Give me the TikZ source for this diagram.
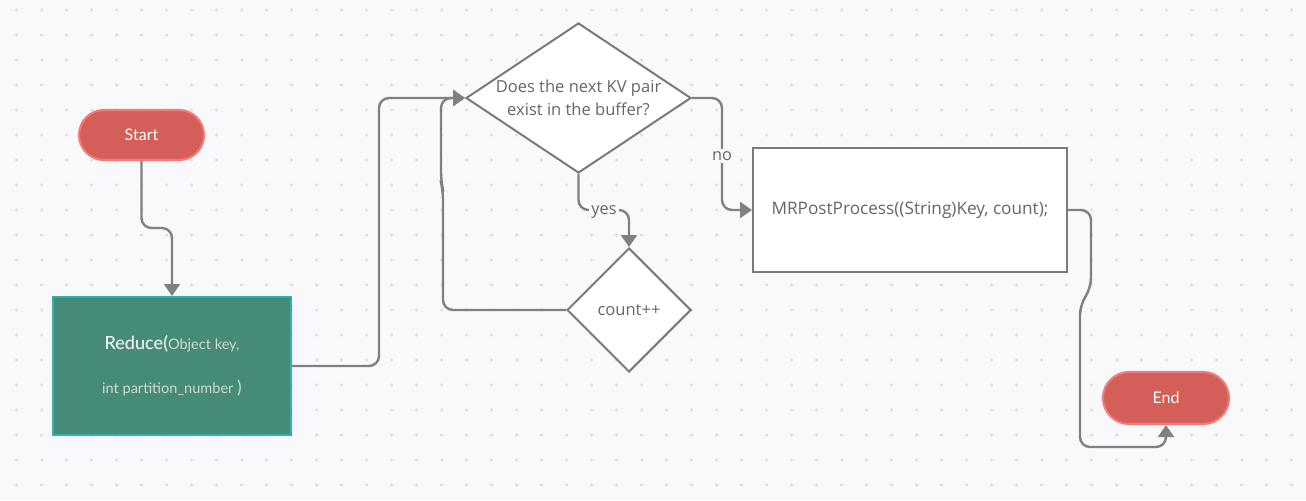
\documentclass[tikz,border=0pt]{standalone}
\usepackage{fontspec}
\setmainfont{Open Sans}
\newfontfamily\latofont{Lato}
\usetikzlibrary{shapes.geometric,arrows.meta,calc}
\definecolor{bg}{HTML}{F9F9FB}
\definecolor{dotc}{HTML}{E0E0E4}
\definecolor{linec}{HTML}{808080}
\definecolor{txt}{HTML}{666666}
\definecolor{pillfill}{HTML}{D45F58}
\definecolor{pillborder}{HTML}{F27A78}
\definecolor{redfill}{HTML}{468B78}
\definecolor{redborder}{HTML}{2BB3AE}
\definecolor{redtxt}{HTML}{D2D8D4}
\definecolor{shapeborder}{HTML}{7A7A7A}
\begin{document}
\begin{tikzpicture}[x=0.75pt,y=-0.75pt,
  pill/.style={rectangle, rounded corners=18.75pt, fill=pillfill, draw=pillborder, line width=1.6pt,
    minimum width=93.75pt, minimum height=37.5pt, text=white, font=\latofont\fontsize{12}{14}\selectfont},
  procbox/.style={rectangle, fill=white, draw=shapeborder, line width=1.5pt, text=txt,
    font=\fontsize{12.9}{17}\selectfont},
  decbox/.style={diamond, fill=white, draw=shapeborder, line width=1.5pt, text=txt, inner sep=0pt,
    shape aspect=1.5, align=center, font=\fontsize{12.4}{17}\selectfont},
  conn/.style={draw=linec, line width=1.8pt, rounded corners=7.5pt, -{Triangle[width=12pt,length=9pt]}},
  lbl/.style={fill=bg, text=txt, inner sep=1.5pt, font=\fontsize{12.2}{14}\selectfont}
]
\useasboundingbox (0,0) rectangle (1306,500);
\fill[bg] (0,0) rectangle (1306,500);
\foreach \i in {0,...,51} {
  \foreach \j in {0,...,19} {
    \fill[dotc] ({16.7+25*\i},{10+25*\j}) circle (1.3pt);
  }
}

% nodes
\node[pill] (start) at (141.5,135) {Start};
\node[pill, minimum width=94.5pt, minimum height=39pt, rounded corners=19.5pt] (end) at (1166,398) {End};
\node[rectangle, fill=redfill, draw=redborder, line width=1.5pt, minimum width=178.5pt, minimum height=103.5pt,
      align=center] (reduce) at (172,366)
  {{\latofont\fontsize{13.6}{15}\selectfont\color{white}Reduce(}{\latofont\fontsize{10.9}{12}\selectfont\color{redtxt}Object key,}\\[20pt]
   {\latofont\fontsize{10.9}{12}\selectfont\color{redtxt}int partition\_number }{\latofont\fontsize{13}{14}\selectfont\color{redtxt})}};
\node[decbox, minimum width=168.75pt, minimum height=112.5pt] (dec) at (578.5,98)
  {Does the next KV pair\\exist in the buffer?};
\node[decbox, shape aspect=1, minimum width=93pt, minimum height=93pt] (count) at (629,310) {count++};
\node[procbox, minimum width=235.5pt, minimum height=93pt] (mr) at (910,210)
  {MRPostProcess((String)Key, count);};

% helper coordinates
\coordinate (ys) at (0,210);
\coordinate (ss) at (0,228);
\coordinate (rx) at (379,0);
\coordinate (nx) at (722,0);
\coordinate (lx) at (443,0);
\coordinate (ex) at (1091,0);

% connectors
\draw[conn] (start.south) |- (reduce.north |- ss) -- (reduce.north);
\draw[conn] (reduce.east) -| (rx |- dec.west) -- (dec.west);
\draw[conn] (count.west) -| (lx |- 0,190) -- (441,182) -- (441,98) -- (dec.west);
\draw[conn] (dec.south) |- (count.north |- ys) -- (count.north);
\draw[conn] (dec.east) -| (nx |- mr.west) -- (mr.west);
\draw[conn] (mr.east) -| (ex |- 0,288) -- (1080,305) -- (1080,447) -| (end.south);

% labels
\node[lbl] (yeslbl) at (604,212) {yes};
\node[lbl] (nolbl) at (722,156) {no};
\end{tikzpicture}
\end{document}
